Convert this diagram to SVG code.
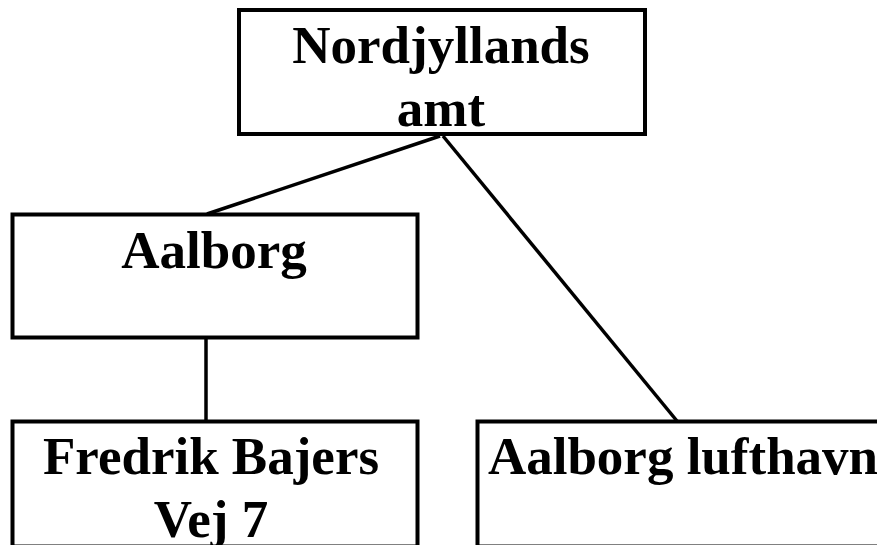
<svg xmlns="http://www.w3.org/2000/svg" width="877" height="545" viewBox="0 0 877 545">
<style>
.box{fill:#fff;stroke:#000;stroke-width:4}
.lbl{font-family:"Liberation Serif","Times New Roman",serif;font-weight:bold;font-size:53px;fill:#000;text-anchor:middle}
.edge{stroke:#000;stroke-width:3.5;fill:none}
</style>
<rect width="877" height="545" fill="#fff"/>
<g id="connectors">
<line class="edge" x1="440" y1="136" x2="207" y2="214"/>
<line class="edge" x1="443" y1="136" x2="677" y2="421"/>
<line class="edge" x1="206" y1="339" x2="206" y2="421"/>
</g>
<g id="node-nordjyllands">
<rect class="box" x="239" y="10" width="406" height="124"/>
<text class="lbl" x="441" y="63">Nordjyllands</text>
<text class="lbl" x="441" y="126">amt</text>
</g>
<g id="node-aalborg">
<rect class="box" x="12.5" y="214.5" width="405" height="123"/>
<text class="lbl" x="214" y="268">Aalborg</text>
</g>
<g id="node-fredrik">
<rect class="box" x="12.5" y="421.5" width="405" height="125"/>
<text class="lbl" x="211" y="474" font-size="52">Fredrik Bajers</text>
<text class="lbl" x="211" y="537">Vej 7</text>
</g>
<g id="node-lufthavn">
<rect class="box" x="477.5" y="421.5" width="406" height="125"/>
<text class="lbl" x="683" y="474">Aalborg lufthavn</text>
</g>
</svg>
